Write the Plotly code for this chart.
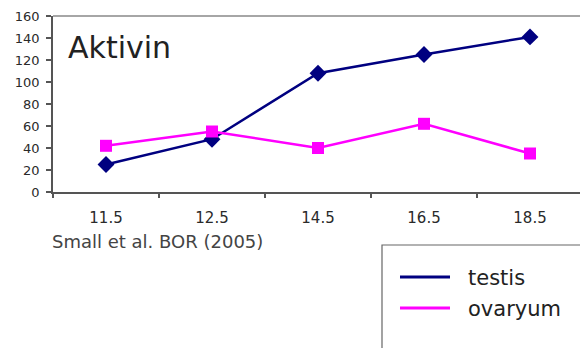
import plotly.graph_objects as go

categories = ["11.5", "12.5", "14.5", "16.5", "18.5"]
testis = [25, 48, 108, 125, 141]
ovaryum = [42, 55, 40, 62, 35]
series_names = ["testis", "ovaryum"]
series_colors = ["#000080", "#FF00FF"]
y_ticks = [0, 20, 40, 60, 80, 100, 120, 140, 160]

W, H = 580, 348
L, T, B = 53, 16, 156

fig = go.Figure()
fig.add_trace(go.Scatter(x=categories, y=testis, mode="lines+markers", name=series_names[0],
                         line=dict(color=series_colors[0], width=2.5),
                         marker=dict(symbol="diamond", size=13, color=series_colors[0]),
                         showlegend=False))
fig.add_trace(go.Scatter(x=categories, y=ovaryum, mode="lines+markers", name=series_names[1],
                         line=dict(color=series_colors[1], width=2.5),
                         marker=dict(symbol="square", size=12, color=series_colors[1]),
                         showlegend=False))

plot_w = W - L
unit = 106.0
fig.update_layout(
    width=W, height=H,
    margin=dict(l=L, r=0, t=T, b=B, autoexpand=False),
    plot_bgcolor="white", paper_bgcolor="white",
    font=dict(family="DejaVu Sans", color="#222222"),
    xaxis=dict(type="category", range=[-0.5, -0.5 + plot_w / unit],
               showline=True, linecolor="#555555", linewidth=1.5,
               ticks="outside", ticklen=4, tickcolor="#555555", tickwidth=1.5,
               tickson="boundaries", showgrid=False, zeroline=False, automargin=False,
               tickfont=dict(size=15, color="#2a2a2a"), ticklabelstandoff=11),
    yaxis=dict(range=[0, 160], tickvals=y_ticks, showline=True, linecolor="#555555", linewidth=1.5,
               ticks="outside", ticklen=5, tickcolor="#555555", tickwidth=1.5,
               showgrid=False, zeroline=False, automargin=False,
               tickfont=dict(size=13, color="#2a2a2a"), ticklabelstandoff=4),
)

# top border of plot area
fig.add_shape(type="line", xref="paper", yref="paper", x0=0, x1=1, y0=1, y1=1,
              line=dict(color="#888888", width=1.5))

ph = H - T - B
def px_x(x):
    return (x - L) / plot_w
def px_y(y):
    return (H - B - y) / ph

fig.add_annotation(text="Aktivin", xref="paper", yref="paper", x=px_x(66), y=px_y(47),
                   xanchor="left", yanchor="middle", showarrow=False,
                   font=dict(size=30, color="#222222", family="DejaVu Sans"))

fig.add_annotation(text="Small et al. BOR (2005)", xref="paper", yref="paper",
                   x=px_x(50), y=px_y(241),
                   xanchor="left", yanchor="middle", showarrow=False,
                   font=dict(size=18, color="#444444", family="DejaVu Sans"))

# legend box (cropped at right and bottom)
fig.add_shape(type="rect", xref="paper", yref="paper",
              x0=px_x(382), x1=px_x(620), y0=px_y(245), y1=px_y(380),
              line=dict(color="#666666", width=1.2), fillcolor="white")
for i, (name, col) in enumerate(zip(series_names, series_colors)):
    yy = 277 + 31 * i
    fig.add_shape(type="line", xref="paper", yref="paper",
                  x0=px_x(400), x1=px_x(450), y0=px_y(yy), y1=px_y(yy),
                  line=dict(color=col, width=3))
    fig.add_annotation(text=name, xref="paper", yref="paper", x=px_x(466), y=px_y(yy + 1),
                       xanchor="left", yanchor="middle", showarrow=False,
                       font=dict(size=21, color="#222222", family="DejaVu Sans"))

fig.write_html("out.html", config={"displayModeBar": False},
               post_script="document.body.style.margin='0';document.body.style.overflow='hidden';")
